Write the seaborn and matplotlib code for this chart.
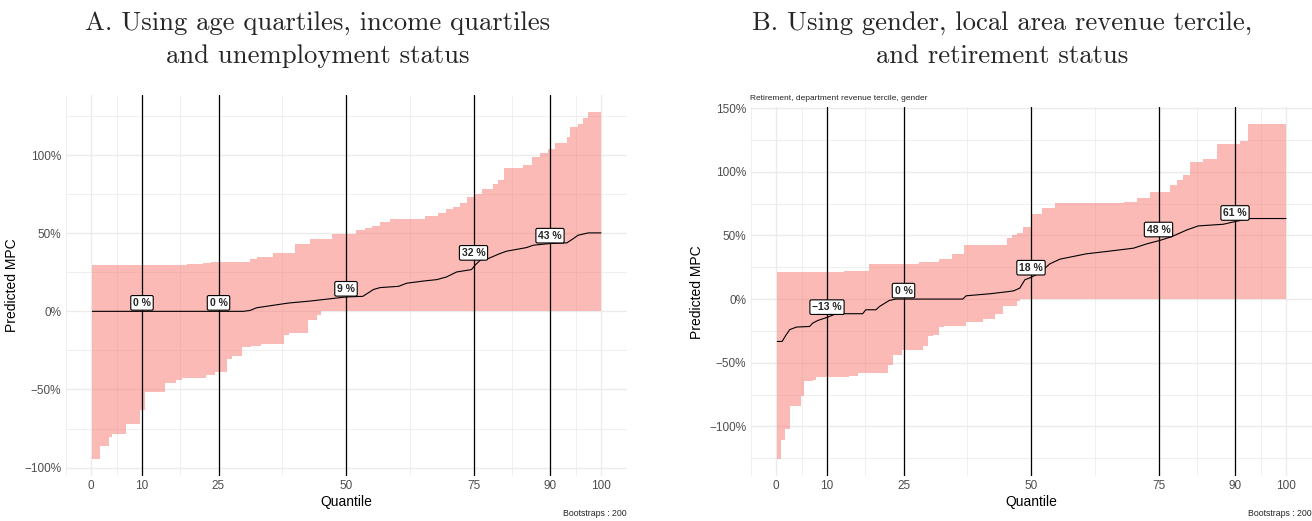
import numpy as np
import pandas as pd
import seaborn as sns
import matplotlib
matplotlib.use("Agg")
import matplotlib.pyplot as plt
from matplotlib.ticker import FixedLocator, FuncFormatter

# Panel A: age quartiles, income quartiles, unemployment status
upper_q_a = [0.25, 18.8, 22, 23.6, 31.2, 32.5, 35.7, 40, 43, 47.2, 52, 53.7, 55, 56.7, 58.6, 65.5,
             68.1, 69.7, 71, 72.4, 73.7, 75, 76.6, 78.9, 79.8, 80.9, 84.8, 86.4, 88, 89.7, 91,
             93.3, 93.9, 95.5, 96.5, 97.5, 100]
upper_a = [29.5, 30, 31, 31.4, 33.8, 34.5, 37.4, 43, 46, 49.8, 52, 53.6, 54.5, 57.3, 58.8, 61.3,
           63, 65.2, 66.5, 69.4, 73.3, 75.4, 78, 81.8, 84, 91.5, 93.6, 98.9, 101.5, 104, 108,
           111.7, 117.7, 120, 123.5, 127.6, 127.6]
lower_q_a = [0.25, 1.8, 3.5, 4.2, 6.8, 9.6, 10.6, 14.5, 16.6, 17.9, 22.5, 24.4, 26.7, 27.7, 29.7,
             31.4, 33.3, 37.9, 38.9, 42.5, 44.4, 45.1, 100]
lower_a = [-94.4, -86, -80.5, -78.4, -72, -63, -51.7, -46, -44, -42.5, -41, -39, -30.4, -28.4, -23,
           -22, -20.7, -15.4, -13.9, -5.4, -2.6, 0, 0]
med_q_a = [0.25, 29.9, 31.2, 32.5, 38.7, 43, 50, 53.3, 55.4, 56.7, 60.3, 61.9, 65.2, 67.8, 69.7,
           71.7, 74.6, 75.3, 76.3, 77.9, 80.2, 81.5, 85.4, 86.7, 90, 93.3, 94.6, 95.5, 97.5, 100]
med_a = [0, 0, 0.6, 2.3, 5.3, 6.6, 9.2, 9.6, 14, 15.2, 16, 18, 19.4, 20.3, 22,
         25.2, 26.7, 29.5, 32.7, 33.8, 37, 38.5, 40.8, 42.3, 43.4, 43.8, 46.6, 48.7, 50.2, 50.2]
label_vals_a = [0, 0, 9, 32, 43]

# Panel B: gender, local area revenue tercile, retirement status
upper_q_b = [0.25, 13.4, 18.3, 28.1, 32, 34.6, 36.9, 45.3, 46.3, 47.2, 48.5, 50.2, 52.2, 54.8, 68.2,
             70.8, 73.4, 77.3, 78.6, 79.9, 81.2, 83.8, 86.4, 91, 92.6, 100]
upper_b = [20.9, 21.7, 27.7, 29.5, 31.4, 35.6, 42.6, 47.9, 50.5, 52.3, 57, 67, 71.4, 75.4, 76.6,
           79.3, 84.5, 89.7, 93.6, 97.6, 108, 109.9, 121.9, 124.5, 137.6, 137.6]
lower_q_b = [0.25, 0.9, 1.8, 2.8, 4.9, 5.5, 7.2, 7.8, 14.4, 16, 21.9, 22.9, 24.8, 28.8, 29.8, 30.7,
             31.9, 33, 37.3, 40.5, 43, 44.6, 47.2, 47.8, 100]
lower_b = [-126, -110.4, -102, -84.3, -75.9, -64.7, -63.3, -61.2, -60.2, -58.1, -51.6, -43.7, -39.8,
           -37.2, -29.4, -28, -22, -21, -18, -15.7, -11.5, -5.2, -1.9, 0, 0]
med_q_b = [0.25, 1.2, 2.0, 2.7, 4, 6.6, 7.2, 8.2, 10, 11.8, 17, 17.6, 19.6, 20.3, 22.2, 23.5, 36.6,
           37.3, 42, 45.8, 46.6, 47.8, 48.8, 50, 51.8, 53.7, 55.7, 60.9, 64.8, 70.1, 72.7, 75.2,
           77.6, 80.6, 82.8, 87.7, 90, 92.9, 100]
med_b = [-33.3, -33.3, -28, -24, -22, -21.5, -18.9, -16.8, -14.4, -11.5, -11.5, -8.4, -8.4, -5.8,
         -1.1, 0, 0, 2.6, 4.2, 6, 6.5, 8.6, 15.2, 17, 20.9, 27.7, 31.4, 35.6, 37.4, 40, 43.4, 46,
         49.1, 54.4, 57.5, 58.8, 60.9, 63.3, 63.3]
label_vals_b = [-13, 0, 18, 48, 61]

label_q = [10, 25, 50, 75, 90]
x_breaks = [0, 10, 25, 50, 75, 90, 100]

titles = ["A. Using age quartiles, income quartiles\nand unemployment status",
          "B. Using gender, local area revenue tercile,\nand retirement status"]
subtitles = ["", "Retirement, department revenue tercile, gender"]

sns.set_theme(style="white")
plt.rcParams['font.family'] = ['Liberation Sans', 'DejaVu Sans']

fig = plt.figure(figsize=(13.12, 5.21), dpi=100)
W, H = 1312, 521

panels = [
    (upper_q_a, upper_a, lower_q_a, lower_a, med_q_a, med_a, label_vals_a, 65.5, 318),
    (upper_q_b, upper_b, lower_q_b, lower_b, med_q_b, med_b, label_vals_b, 750.5, 1002),
]

for i, (uq, uv, lq, lv, mq, mv, lab, x0, tx) in enumerate(panels):
    # y range like ggplot: data range expanded by 5%
    ymin, ymax = min(lv + mv), max(uv + mv)
    span = ymax - ymin
    ylo, yhi = ymin - 0.05 * span, ymax + 0.05 * span
    top_px = 107.2 if i == 1 else 94.6
    bot_px = 476.2
    ax = fig.add_axes([x0 / W, 1 - bot_px / H, 561 / W, (bot_px - top_px) / H])

    # merged step grid for the ribbon
    grid = np.array(sorted(set(uq) | set(lq)))
    up = pd.Series(uv, index=uq).reindex(grid).ffill().values
    lo = pd.Series(lv, index=lq).reindex(grid).ffill().values
    ax.fill_between(grid, lo, up, step="post", color="#F8766D", alpha=0.5, lw=0, zorder=2)

    df = pd.DataFrame({"Quantile": mq, "MPC": mv})
    sns.lineplot(data=df, x="Quantile", y="MPC", ax=ax, color="black", lw=0.8, zorder=3)

    for q, v in zip(label_q, lab):
        ax.axvline(q, color="black", lw=0.9, zorder=4)
        txt = f"{v} %".replace("-", "\u2212")
        ax.annotate(txt, (q, v), xytext=(0, 2.5), textcoords="offset points",
                    ha="center", va="bottom", fontsize=7.5, fontweight="bold", zorder=6,
                    bbox=dict(boxstyle="round,pad=0.22,rounding_size=0.15", fc="white",
                              ec="black", lw=0.8))

    ax.set_xlim(-5, 105)
    ax.set_ylim(ylo, yhi)
    yb = [v for v in range(-150, 201, 50) if ylo <= v <= yhi]
    ax.xaxis.set_major_locator(FixedLocator(x_breaks))
    ax.yaxis.set_major_locator(FixedLocator(yb))
    xm = [-5] + [(a + b) / 2 for a, b in zip(x_breaks[:-1], x_breaks[1:])] + [105]
    ym = [v + 25 for v in range(-150, 201, 50) if ylo <= v + 25 <= yhi]
    ax.xaxis.set_minor_locator(FixedLocator(xm))
    ax.yaxis.set_minor_locator(FixedLocator(ym))
    ax.yaxis.set_major_formatter(FuncFormatter(lambda v, p: f"{v:.0f}%".replace("-", "\u2212")))
    ax.grid(which="major", color="#EBEBEB", lw=1.0, zorder=0)
    ax.grid(which="minor", color="#EDEDED", lw=0.6, zorder=0)
    ax.set_axisbelow(True)
    for s in ax.spines.values():
        s.set_visible(False)
    ax.tick_params(axis="both", which="both", length=0, labelsize=8.5, labelcolor="#4D4D4D", pad=3)
    ax.set_xlabel("Quantile", fontsize=10, color="black", labelpad=2)
    ax.set_ylabel("Predicted MPC", fontsize=10, color="black", labelpad=4)

    fig.text(tx / W, 1 - 40 / H, titles[i], ha="center", va="center", fontsize=19.2,
             family="cmr10", linespacing=1.5)
    if subtitles[i]:
        fig.text(x0 / W, 1 - 98 / H, subtitles[i], ha="left", va="center", fontsize=6)
    fig.text((x0 + 561) / W, 1 - 514 / H, "Bootstraps : 200", ha="right", va="center", fontsize=6.3)

fig.savefig("out.png", dpi=100)
